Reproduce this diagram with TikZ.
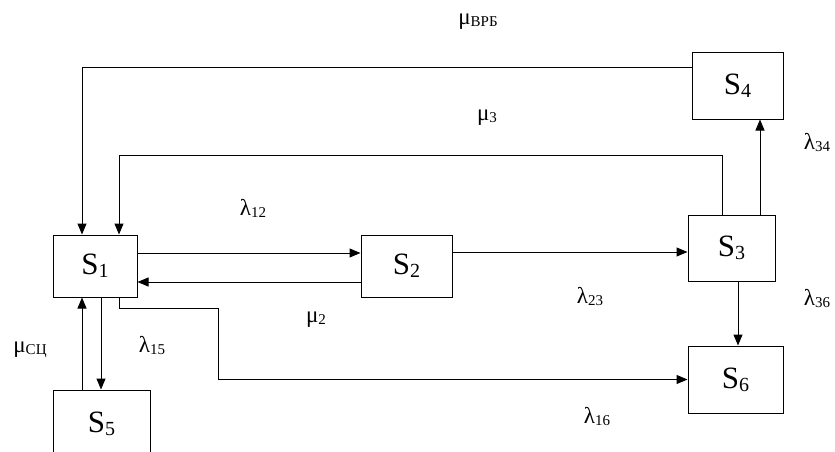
\documentclass[tikz,border=0pt]{standalone}
\usepackage{fontspec}
\setmainfont{Liberation Serif}
\usetikzlibrary{arrows.meta}

% state name and rate label with a lowered index
\newcommand{\st}[1]{S{\fontsize{20}{20}\selectfont\raisebox{-3pt}{#1}}}
\newcommand{\rt}[2]{#1{\fontsize{15}{15}\selectfont\raisebox{-2pt}{#2}}}

\tikzset{
  state/.style={draw, line width=1pt, inner sep=0pt, font=\fontsize{31}{31}\selectfont},
  rate/.style={inner sep=0pt, font=\fontsize{23}{23}\selectfont},
  arr/.style={line width=1pt, -{Triangle[length=11pt,width=9pt]}}
}

\begin{document}
\begin{tikzpicture}[x=1pt,y=-1pt]

        \useasboundingbox (0,0) rectangle (835,452);
        \clip (0,0) rectangle (835,452);

        \begin{scope}[every node/.style={state}]
          \node[minimum width=84pt, minimum height=62pt] (s1) at (95,266)    {\st{1}};
          \node[minimum width=91pt, minimum height=62pt] (s2) at (406.5,266) {\st{2}};
          \node[minimum width=87pt, minimum height=66pt] (s3) at (731.5,248) {\st{3}};
          \node[minimum width=91pt, minimum height=66pt] (s4) at (737.5,86)  {\st{4}};
          \node[minimum width=97pt, minimum height=67pt] (s5) at (101.5,423.5) {\st{5}};
          \node[minimum width=95pt, minimum height=67pt] (s6) at (735.5,379.5) {\st{6}};
        \end{scope}

        \begin{scope}[every node/.style={rate}]
          \node (mvrb) at (478,22)  {\rt{μ}{ВРБ}};
          \node (m3)   at (487,118) {\rt{μ}{3}};
          \node (l12)  at (253,208) {\rt{λ}{12}};
          \node (m2)   at (316,320) {\rt{μ}{2}};
          \node (l23)  at (590,296) {\rt{λ}{23}};
          \node (l34)  at (817,142) {\rt{λ}{34}};
          \node (l36)  at (817,298) {\rt{λ}{36}};
          \node (msc)  at (30,350)  {\rt{μ}{СЦ}};
          \node (l15)  at (152,345) {\rt{λ}{15}};
          \node (l16)  at (597,416) {\rt{λ}{16}};
        \end{scope}

        % transitions between states
        \draw[arr] ([yshift=18pt]s4.west) -| ([xshift=-13pt]s1.north);
        \draw[arr] ([xshift=-9.5pt]s3.north) -- ++(0,-59) -| ([xshift=24pt]s1.north);
        \draw[arr] ([yshift=13pt]s1.east) -- ([yshift=13pt]s2.west);
        \draw[arr] ([yshift=-16pt]s2.west) -- ([yshift=-16pt]s1.east);
        \draw[arr] ([yshift=14pt]s2.east) -- ([yshift=14pt]s2.east -| s3.west);
        \draw[arr] ([xshift=28.5pt]s3.north) -- ([xshift=28.5pt]s3.north |- s4.south);
        \draw[arr] ([xshift=6.5pt]s3.south) -- ([xshift=6.5pt]s3.south |- s6.north);
        \draw[arr] ([xshift=6pt]s1.south) -- ([xshift=6pt]s1.south |- s5.north);
        \draw[arr] ([xshift=-13pt]s1.south |- s5.north) -- ([xshift=-13pt]s1.south);
        \draw[arr] ([xshift=24pt]s1.south) -- ++(0,11) -- ++(99,0) |- (s6.west);

\end{tikzpicture}
\end{document}
